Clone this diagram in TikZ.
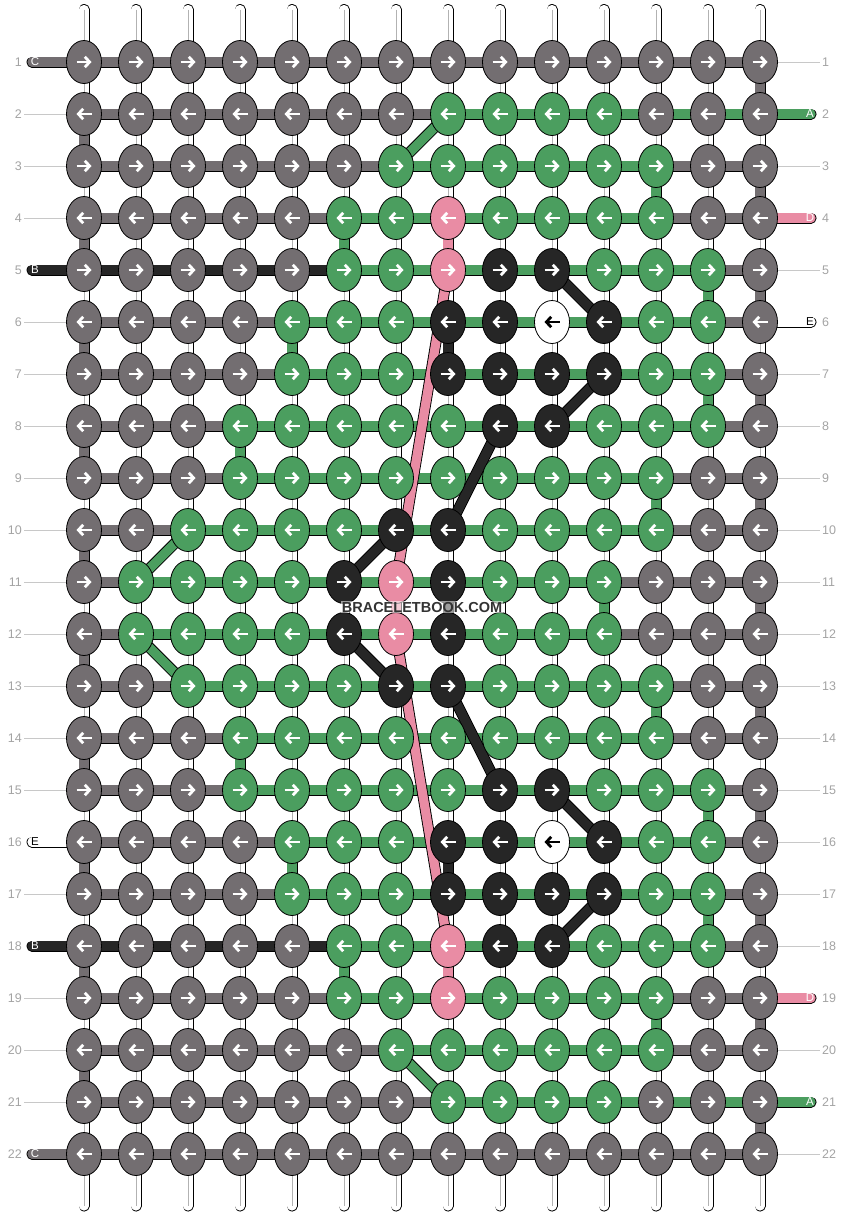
\documentclass[tikz,border=0pt]{standalone}
\usepackage{fontspec}
\setmainfont{Liberation Sans}
\usetikzlibrary{positioning,arrows.meta,shapes.geometric,backgrounds}
\definecolor{strA}{HTML}{4B9E5F}
\definecolor{strB}{HTML}{262626}
\definecolor{strC}{HTML}{736E71}
\definecolor{strD}{HTML}{E98CA4}
\definecolor{strE}{HTML}{FFFFFF}
\definecolor{numgray}{HTML}{A3A3A3}
\definecolor{leadgray}{HTML}{C8C8C8}
\newcommand{\rowy}[1]{62+52*(#1-1)}

\begin{document}
\begin{tikzpicture}[x=1pt, y=-1pt,
  knot/.style={ellipse, draw=black, line width=0.8pt, minimum width=35pt, minimum height=43pt, inner sep=0pt},
  arr/.style={line width=2.8pt},
  arrR/.style={-{Straight Barb[length=4.8pt,width=10.5pt]}},
  arrL/.style={{Straight Barb[length=4.8pt,width=10.5pt]}-},
  onA/.style={white}, onB/.style={white}, onC/.style={white}, onD/.style={white}, onE/.style={black},
  strand/.style={draw=black, line width=0.9pt, double distance=9.2pt, line cap=round},
  basestr/.style={strand, double=white},
  midline/.style={draw=gray!60, line width=0.6pt},
  numlbl/.style={text=numgray, inner sep=2pt, font=\fontsize{12.5}{14}\selectfont},
  leader/.style={draw=leadgray, line width=0.8pt},
  stublbl/.style={inner sep=0pt, font=\fontsize{11.5}{13}\selectfont},
  wmark/.style={fill=white, fill opacity=0.55, text opacity=1, text=black!80, inner sep=1pt, font=\fontsize{14.5}{16}\selectfont\bfseries}
  ]
  \useasboundingbox (0,0) rectangle (844,1216);

  % knots, row by row
  \foreach \knots [count=\r] in {
    {C,C,C,C,C,C,C,C,C,C,C,C,C,C},
    {C,C,C,C,C,C,C,A,A,A,A,C,C,C},
    {C,C,C,C,C,C,A,A,A,A,A,A,C,C},
    {C,C,C,C,C,A,A,D,A,A,A,A,C,C},
    {C,C,C,C,C,A,A,D,B,B,A,A,A,C},
    {C,C,C,C,A,A,A,B,B,E,B,A,A,C},
    {C,C,C,C,A,A,A,B,B,B,B,A,A,C},
    {C,C,C,A,A,A,A,A,B,B,A,A,A,C},
    {C,C,C,A,A,A,A,A,A,A,A,A,C,C},
    {C,C,A,A,A,A,B,B,A,A,A,A,C,C},
    {C,A,A,A,A,B,D,B,A,A,A,C,C,C},
    {C,A,A,A,A,B,D,B,A,A,A,C,C,C},
    {C,C,A,A,A,A,B,B,A,A,A,A,C,C},
    {C,C,C,A,A,A,A,A,A,A,A,A,C,C},
    {C,C,C,A,A,A,A,A,B,B,A,A,A,C},
    {C,C,C,C,A,A,A,B,B,E,B,A,A,C},
    {C,C,C,C,A,A,A,B,B,B,B,A,A,C},
    {C,C,C,C,C,A,A,D,B,B,A,A,A,C},
    {C,C,C,C,C,A,A,D,A,A,A,A,C,C},
    {C,C,C,C,C,C,A,A,A,A,A,A,C,C},
    {C,C,C,C,C,C,C,A,A,A,A,C,C,C},
    {C,C,C,C,C,C,C,C,C,C,C,C,C,C}}{
    \ifodd\r \def\tipdir{arrR}\else\def\tipdir{arrL}\fi
    \foreach \s [count=\c] in \knots {
      \node[knot, fill=str\s] (k-\r-\c) at ({84+52*(\c-1)},{\rowy{\r}}) {};
      \draw[arr, on\s, \tipdir] ([xshift=-7.5pt]k-\r-\c.center) -- ([xshift=7.5pt]k-\r-\c.center);
    }
    \node[numlbl, anchor=east] (nl-\r) at (24,{\rowy{\r}}) {\r};
    \node[numlbl, anchor=west] (nr-\r) at (820,{\rowy{\r}}) {\r};
  }

  % loose ends with their letters
  \foreach \r/\lt in {1/C,5/B,16/E,18/B,22/C}{
    \coordinate (k-\r-0) at (32,{\rowy{\r}});
    \node[stublbl, on\lt] (sl-\r) at (35,{\rowy{\r}}) {\lt};
  }
  \foreach \r/\lt in {2/A,4/D,6/E,19/D,21/A}{
    \coordinate (k-\r-15) at (811,{\rowy{\r}});
    \node[stublbl, on\lt] (sr-\r) at (810,{\rowy{\r}}) {\lt};
  }
  \foreach \r in {2,3,4,6,7,8,9,10,11,12,13,14,15,17,19,20,21}
    \draw[leader] (nl-\r) -- (k-\r-1);
  \foreach \r in {1,3,5,7,8,9,10,11,12,13,14,15,16,17,18,20,22}
    \draw[leader] (k-\r-14) -- (nr-\r);

  \foreach \c in {1,...,14}{
    \coordinate (t-\c) at ({84+52*(\c-1)},9.5);
    \coordinate (b-\c) at ({84+52*(\c-1)},1206);
  }

  \node[wmark] (wm) at (422,607) {BRACELETBOOK.COM};

  \begin{scope}[on background layer]
    % base strings
    \foreach \c in {1,...,14}{
      \draw[basestr] (t-\c) -- (b-\c);
      \draw[midline] (t-\c) -- (b-\c);
    }
    % strings carried along each row, lowest first
    \foreach \r/\spans in {1/{C/0/14}, 2/{C/1/14,A/8/15}, 3/{C/1/14,A/7/12},
      4/{D/8/15,C/1/14,A/6/12}, 5/{C/1/14,B/0/10,A/6/13},
      6/{E/10/15,C/1/14,B/8/11,A/5/13}, 7/{C/1/14,B/8/11,A/5/13},
      8/{C/1/14,B/9/10,A/4/13}, 9/{C/1/14,A/4/12}, 10/{C/1/14,B/7/8,A/3/12},
      11/{C/1/14,B/6/8,A/2/11}, 12/{C/1/14,B/6/8,A/2/11}, 13/{C/1/14,B/7/8,A/3/12},
      14/{C/1/14,A/4/12}, 15/{C/1/14,B/9/10,A/4/13},
      16/{E/0/10,C/1/14,B/8/11,A/5/13}, 17/{C/1/14,B/8/11,A/5/13},
      18/{C/1/14,B/0/10,A/6/13}, 19/{D/8/15,C/1/14,A/6/12},
      20/{C/1/14,A/7/12}, 21/{C/1/14,A/8/15}, 22/{C/0/14}}
      \foreach \s/\a/\b in \spans
        \draw[strand, double=str\s] (k-\r-\a.center) -- (k-\r-\b.center);
    % strings going down to the next row
    \foreach \r [evaluate=\r as \n using {int(\r+1)}] in {1,3,...,21}
      \draw[strand, double=strC] (k-\r-14.center) -- (k-\n-14.center);
    \foreach \r [evaluate=\r as \n using {int(\r+1)}] in {2,4,...,20}
      \draw[strand, double=strC] (k-\r-1.center) -- (k-\n-1.center);
    \foreach \s/\ra/\ca/\rb/\cb in {D/4/8/5/8, D/5/8/11/7, D/11/7/12/7, D/12/7/18/8, D/18/8/19/8,
      B/5/10/6/11, B/6/8/7/8, B/7/11/8/10, B/8/9/10/8, B/10/7/11/6, B/11/8/12/8,
      B/12/6/13/7, B/13/8/15/9, B/15/10/16/11, B/16/8/17/8, B/17/11/18/10,
      A/2/8/3/7, A/3/12/4/12, A/4/6/5/6, A/5/13/6/13, A/6/5/7/5, A/7/13/8/13,
      A/8/4/9/4, A/9/12/10/12, A/10/3/11/2, A/11/11/12/11, A/12/2/13/3, A/13/12/14/12,
      A/14/4/15/4, A/15/13/16/13, A/16/5/17/5, A/17/13/18/13, A/18/6/19/6,
      A/19/12/20/12, A/20/7/21/8}
      \draw[strand, double=str\s] (k-\ra-\ca.center) -- (k-\rb-\cb.center);
  \end{scope}
\end{tikzpicture}
\end{document}
